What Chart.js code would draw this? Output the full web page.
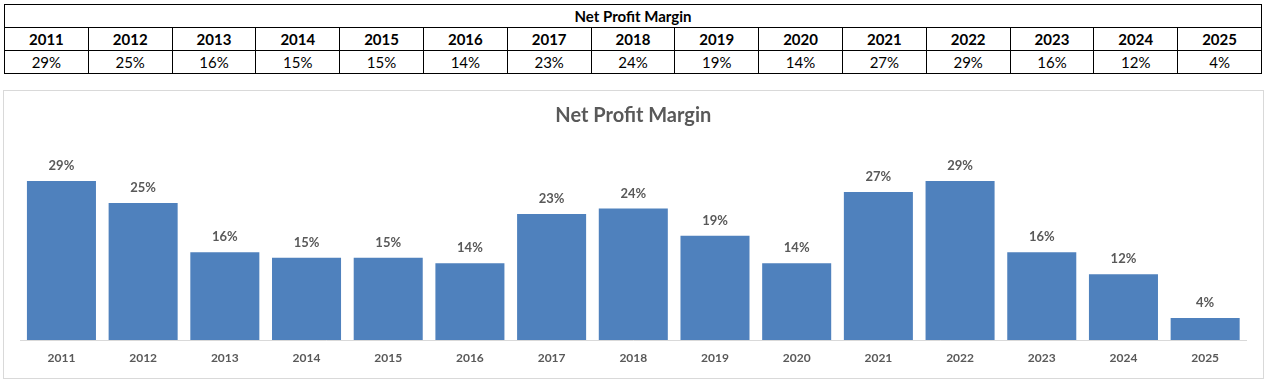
<!DOCTYPE html>
<html><head><meta charset="utf-8">
<script src="https://cdn.jsdelivr.net/npm/chart.js@4/dist/chart.umd.min.js"></script>
<style>
html,body{margin:0;padding:0;background:#fff;width:1269px;height:382px;overflow:hidden;font-family:Lato,"Open Sans",sans-serif;}
#tbl{position:absolute;left:4px;top:4px;width:1258px;border-collapse:collapse;table-layout:fixed;}
#tbl td{border:1px solid #000;height:23px;padding:0;text-align:center;font-size:15px;color:#000;line-height:22px;box-sizing:border-box;}
#tbl tr.h td{font-weight:bold;}
#wrap{position:absolute;left:3px;top:90px;width:1261px;height:289px;}
#frame{position:absolute;left:3px;top:90px;width:1261px;height:289px;border:1px solid #d9d9d9;box-sizing:border-box;pointer-events:none;}
</style></head>
<body>
<table id="tbl"></table>
<div id="wrap"><canvas id="c" width="1261" height="289"></canvas></div>
<div id="frame"></div>
<script>
const chartTitle = "Net Profit Margin";
const years = ["2011","2012","2013","2014","2015","2016","2017","2018","2019","2020","2021","2022","2023","2024","2025"];
const netProfitMargin = [29,25,16,15,15,14,23,24,19,14,27,29,16,12,4];
const yMax = 32;

// table
const tbl = document.getElementById('tbl');
const pct = v => v + '%';
let html = '<tr class="h"><td colspan="' + years.length + '">' + chartTitle + '</td></tr>';
html += '<tr class="h">' + years.map(y => '<td>' + y + '</td>').join('') + '</tr>';
html += '<tr>' + netProfitMargin.map(v => '<td>' + pct(v) + '</td>').join('') + '</tr>';
tbl.innerHTML = html;

const labelPlugin = {
  id: 'barLabels',
  afterDatasetsDraw(chart) {
    const ctx = chart.ctx;
    const meta = chart.getDatasetMeta(0);
    ctx.save();
    ctx.font = 'bold 13px Lato, sans-serif';
    ctx.fillStyle = '#595959';
    ctx.textAlign = 'center';
    ctx.textBaseline = 'middle';
    meta.data.forEach((bar, i) => {
      ctx.fillText(pct(chart.data.datasets[0].data[i]), bar.x, bar.y - 15);
    });
    ctx.restore();
  }
};

new Chart(document.getElementById('c'), {
  type: 'bar',
  data: {
    labels: years,
    datasets: [{
      data: netProfitMargin,
      backgroundColor: '#4F81BD',
      borderWidth: 0,
      categoryPercentage: 1,
      barPercentage: 0.845
    }]
  },
  options: {
    responsive: false,
    animation: false,
    events: [],
    layout: { padding: { left: 17.6, right: 18, top: 0, bottom: 0 } },
    plugins: {
      legend: { display: false },
      tooltip: { enabled: false },
      title: {
        display: true,
        text: chartTitle,
        color: '#595959',
        font: { family: 'Lato, sans-serif', size: 20, weight: 'bold', lineHeight: 1.2 },
        padding: { top: 13.7, bottom: 36.9 }
      }
    },
    scales: {
      x: {
        grid: { display: false, drawTicks: false },
        border: { display: true, color: '#d9d9d9', width: 1 },
        ticks: { color: '#595959', font: { family: 'Lato, sans-serif', size: 12, weight: 'bold' }, padding: 11, maxRotation: 0 },
        afterFit: (axis) => { axis.height = 39; }
      },
      y: {
        display: false,
        min: 0,
        max: yMax
      }
    }
  },
  plugins: [labelPlugin]
});
</script>
</body></html>
